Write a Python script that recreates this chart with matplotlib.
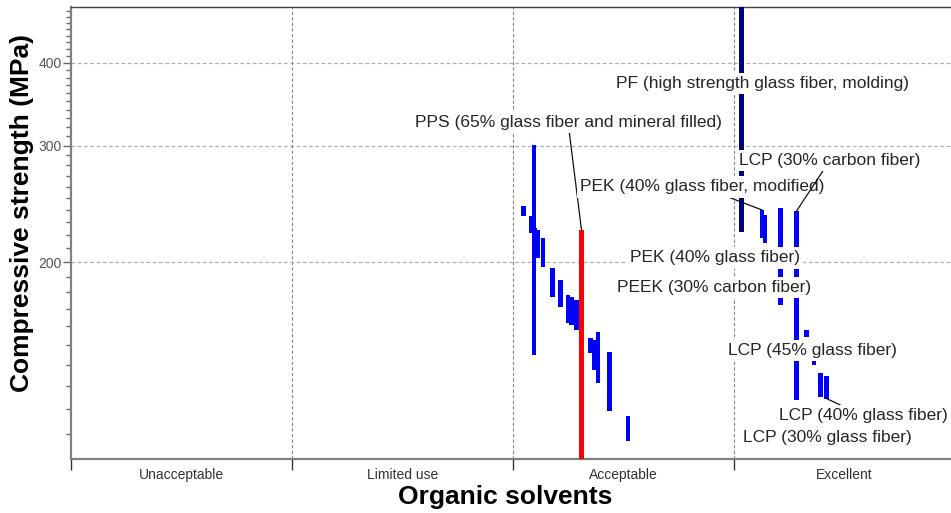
import matplotlib
matplotlib.use("Agg")
import matplotlib.pyplot as plt
from matplotlib.ticker import FixedLocator, NullFormatter

plt.rcParams["font.family"] = ["Liberation Sans", "DejaVu Sans"]

categories = ["Unacceptable", "Limited use", "Acceptable", "Excellent"]

# blue ranges (x position on the category scale, low, high) in MPa
blue_x = [2.048, 2.081, 2.095, 2.100, 2.113, 2.136, 2.179, 2.215, 2.249, 2.265,
          2.287, 2.351, 2.369, 2.385, 2.437, 2.520,
          3.127, 3.140, 3.210, 3.283, 3.328, 3.362, 3.391, 3.419]
blue_lo = [234.9, 221.4, 145.0, 212.4, 203.0, 196.8, 177.3, 171.3, 162.0, 160.9,
           158.1, 145.9, 137.6, 131.5, 119.3, 107.5,
           217.6, 213.9, 172.4, 124.0, 154.3, 140.0, 125.3, 124.4]
blue_hi = [243.2, 234.9, 300.6, 225.3, 223.7, 217.6, 196.1, 188.1, 178.5, 177.3,
           175.4, 153.7, 152.7, 157.0, 146.4, 117.3,
           239.8, 235.6, 241.5, 239.0, 158.1, 148.5, 136.2, 134.8]

# PF bar (dark blue) and highlighted PEK bar (red)
navy_x, navy_lo, navy_hi = [3.034], [222.2], [520.0]
red_x, red_lo, red_hi = [2.310], [95.0], [223.7]

# labels: text, label position, point the leader goes to (None = no leader)
labels = [
    ("PPS (65% glass fiber and mineral filled)", 2.249, 325.4, (2.310, 223.7)),
    ("PF (high strength glass fiber, molding)", 3.127, 372.9, None),
    ("PEK (40% glass fiber, modified)", 2.855, 259.8, (3.127, 239.8)),
    ("LCP (30% carbon fiber)", 3.434, 285.0, (3.283, 239.0)),
    ("PEK (40% glass fiber)", 2.914, 203.0, None),
    ("PEEK (30% carbon fiber)", 2.910, 182.9, None),
    ("LCP (45% glass fiber)", 3.353, 147.0, None),
    ("LCP (40% glass fiber)", 3.584, 117.3, (3.419, 124.4)),
    ("LCP (30% glass fiber)", 3.421, 108.7, None),
]

fig = plt.figure(figsize=(9.51, 5.13), dpi=100)
ax = fig.add_axes([71 / 951, 54.5 / 513, 884 / 951, 451.5 / 513])

w = 0.021
ax.bar(blue_x, [h - l for l, h in zip(blue_lo, blue_hi)], bottom=blue_lo,
       width=w, color="#0000ff", zorder=3)
ax.bar(navy_x, [h - l for l, h in zip(navy_lo, navy_hi)], bottom=navy_lo,
       width=w, color="#000080", zorder=3)
ax.bar(red_x, [h - l for l, h in zip(red_lo, red_hi)], bottom=red_lo,
       width=w + 0.004, color="#ff0000", zorder=4)

for text, tx, ty, target in labels:
    box = dict(boxstyle="square,pad=0.18", fc="white", ec="none")
    if target is None:
        ax.text(tx, ty, text, ha="center", va="center", fontsize=12.5,
                color="#262626", bbox=box, zorder=6)
    else:
        ax.annotate(text, xy=target, xytext=(tx, ty), ha="center", va="center",
                    fontsize=12.5, color="#262626", bbox=box, zorder=6,
                    arrowprops=dict(arrowstyle="-", color="#111111", lw=0.9,
                                    shrinkA=0, shrinkB=0))

ax.set_yscale("log")
ax.set_ylim(101, 486)
ax.set_xlim(0, 4)

ax.yaxis.set_major_locator(FixedLocator([200, 300, 400]))
ax.yaxis.set_major_formatter(plt.FixedFormatter(["200", "300", "400"]))
minor = [v for v in range(110, 490, 10) if v not in (200, 300, 400)]
ax.yaxis.set_minor_locator(FixedLocator(minor))
ax.yaxis.set_minor_formatter(NullFormatter())

ax.xaxis.set_major_locator(FixedLocator([0, 1, 2, 3, 4]))
ax.xaxis.set_major_formatter(NullFormatter())
ax.xaxis.set_minor_locator(FixedLocator([0.5, 1.5, 2.5, 3.5]))
ax.xaxis.set_minor_formatter(plt.FixedFormatter(categories))

ax.tick_params(axis="y", which="major", length=6, width=1, color="#666666",
               labelsize=10, labelcolor="#555555", pad=0.5)
ax.tick_params(axis="y", which="minor", length=3.5, width=1, color="#666666")
ax.tick_params(axis="x", which="major", length=8, width=1, color="#333333")
ax.tick_params(axis="x", which="minor", length=0, labelsize=10,
               labelcolor="#333333", pad=7)

for y in [200, 300, 400]:
    ax.axhline(y, color="#b0b0b0", lw=0.9, ls=(0, (3, 2)), zorder=1)
for x in [1, 2, 3]:
    ax.axvline(x, color="#888888", lw=0.8, ls=(0, (3, 2)), zorder=1)

ax.spines["left"].set_color("#808080")
ax.spines["left"].set_linewidth(1.6)
ax.spines["bottom"].set_color("#808080")
ax.spines["bottom"].set_linewidth(1.6)
ax.spines["top"].set_color("#444444")
ax.spines["top"].set_linewidth(1.0)
ax.spines["right"].set_visible(False)

ax.set_ylabel("Compressive strength (MPa)", fontsize=19, fontweight="bold")
ax.set_xlabel("Organic solvents", fontsize=19, fontweight="bold")
ax.yaxis.set_label_coords(-0.055, 0.544)
ax.yaxis.label.set_va("center")
ax.xaxis.set_label_coords(0.4915, -0.085)
ax.xaxis.label.set_va("center")

fig.savefig("out.png", dpi=100)
plt.close(fig)
